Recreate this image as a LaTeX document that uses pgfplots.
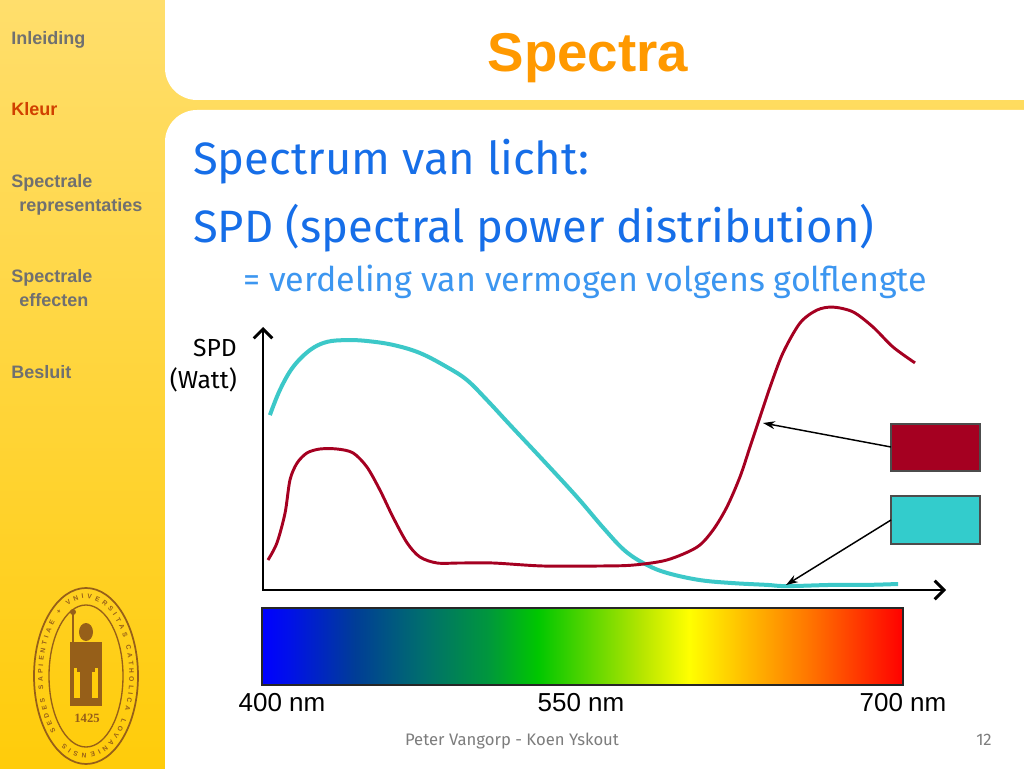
\documentclass[border=0pt]{standalone}
\usepackage{pgfplots}
\pgfplotsset{compat=1.18}
\usepackage{fontspec}
\setmainfont{Fira Sans}
\newfontfamily\arial{Liberation Sans}
\newfontfamily\serifb{Liberation Serif}
\usetikzlibrary{arrows.meta,decorations.text}
\definecolor{sbtop}{RGB}{255,222,108}
\definecolor{sbbot}{RGB}{255,204,10}
\definecolor{navgray}{RGB}{112,112,112}
\definecolor{navred}{RGB}{208,64,0}
\definecolor{titleor}{RGB}{255,153,0}
\definecolor{txtblue}{RGB}{22,110,232}
\definecolor{ltblue}{RGB}{60,150,240}
\definecolor{spdred}{RGB}{165,0,33}
\definecolor{spdcyan}{RGB}{51,204,204}
\definecolor{curvecyan}{RGB}{60,200,200}
\definecolor{seal}{RGB}{150,95,25}
\definecolor{footgray}{RGB}{125,125,125}
\pgfdeclarehorizontalshading{spectrum}{100bp}{%
rgb(0bp)=(0,0,1); rgb(25bp)=(0,0,1); rgb(27bp)=(0,0.06,0.92);
rgb(32.25bp)=(0,0.24,0.59); rgb(37.5bp)=(0,0.43,0.43);
rgb(42.6bp)=(0,0.59,0.24); rgb(46.5bp)=(0,0.78,0);
rgb(54.6bp)=(0.71,0.9,0); rgb(58.3bp)=(1,1,0);
rgb(62.5bp)=(1,0.75,0); rgb(67.5bp)=(1,0.47,0);
rgb(75bp)=(1,0,0); rgb(100bp)=(1,0,0)}

\pgfplotstableread{
nm spd
403.7 58.3
408.4 66.7
414.5 74.3
422.5 80.0
430.4 82.7
439.8 83.3
449.1 83.0
461.3 81.7
473.9 79.0
486.6 74.3
495.9 70.0
505.3 63.3
516.1 55.0
531.5 43.3
547.4 31.0
560.0 20.5
570.0 13.0
580.0 8.4
590.0 5.6
605.0 3.3
620.4 2.3
636.3 1.7
645.7 1.3
667.2 1.7
683.1 1.7
697.7 2.0
}\cyantable

\pgfplotstableread{
nm spd
402.8 10.0
407.0 15.7
410.8 25.7
413.1 36.7
416.4 42.3
421.1 45.7
427.1 47.0
435.1 47.0
442.6 45.7
449.1 41.0
455.2 33.3
461.3 24.3
467.9 15.7
473.9 11.0
481.9 9.0
492.7 9.0
508.1 9.0
531.5 8.0
558.2 8.0
573.6 8.3
589.5 10.0
603.6 14.3
611.1 20.0
617.6 27.7
623.7 37.7
628.4 47.7
633.1 57.7
637.8 67.7
643.8 79.0
651.8 89.0
659.7 93.3
667.2 94.3
676.6 92.7
685.9 87.7
695.3 81.0
705.6 75.7
}\redtable

\tikzset{px/.style={x=0.75pt,y=-0.75pt,shift={(0pt,576pt)}}}

\begin{document}
\begin{tikzpicture}
% ---------- background ----------
\begin{scope}[px]
\shade[top color=sbtop,bottom color=sbbot] (0,0) rectangle (1024,768);
\fill[white,rounded corners=24pt] (165,-60) rectangle (1080,100);
\fill[white,rounded corners=24pt] (165,110) rectangle (1080,830);
% sidebar navigation
\begin{scope}[every node/.style={anchor=base west,inner sep=0pt,font=\arial\bfseries\fontsize{13.5}{16}\selectfont,text=navgray}]
\node at (11,45) {Inleiding};
\node[text=navred] at (11,116) {Kleur};
\node at (11,188) {Spectrale};
\node at (19,212) {representaties};
\node at (11,283) {Spectrale};
\node at (19,307) {effecten};
\node at (11,379) {Besluit};
\end{scope}
% seal
\draw[seal,line width=1.3pt] (86,676) ellipse [x radius=52, y radius=88];
\draw[seal,line width=1.0pt] (86,676) ellipse [x radius=37, y radius=71];
\fill[seal] (70,642) rectangle (102,706);
\fill[sbbot] (74,668) rectangle (98,698);
\fill[seal] (80,672) rectangle (92,698);
\fill[seal] (86,632) ellipse [x radius=7, y radius=9];
\fill[seal] (77,642) rectangle (95,672);
\draw[seal,line width=1.2pt] (73,612) -- (73,660);
\fill[seal] (73,612) circle (3);
\node[seal,font=\serifb\bfseries\fontsize{9.5}{11}\selectfont,inner sep=0pt] at (87,718) {1425};
\end{scope}
\path[decorate,decoration={text along path,text align=fit to path,
  text={|\arial\bfseries\fontsize{5}{6}\selectfont\color{seal}|SEDES SAPIENTIAE + VNIVERSITAS CATHOLICA LOVANIENSIS}}]
  (64.5pt,69pt) ++(226:32.5pt and 58pt) arc[start angle=226, end angle=-120, x radius=32.5pt, y radius=58pt];

% ---------- chart ----------
\begin{axis}[at={(0pt,0pt)},anchor=south west,scale only axis,
  width=768pt,height=576pt,
  xmin=277.38,xmax=756.63,ymin=-59.333,ymax=196.667,
  hide axis,clip=false]
\addplot[curvecyan,line width=3pt,smooth,tension=0.6] table[x=nm,y=spd] {\cyantable};
\addplot[spdred,line width=2.2pt,smooth,tension=0.5] table[x=nm,y=spd] {\redtable};
\end{axis}

\begin{scope}[px]
% axes
\draw[line width=2.2pt,{Straight Barb[length=7pt,width=14pt]}-{Straight Barb[length=7pt,width=14pt]}]
  (263,327) -- (263,590) -- (946,590);
% boxes and connectors
\filldraw[fill=spdred,draw=black!70,line width=0.8pt] (891,424) rectangle (980,471);
\filldraw[fill=spdcyan,draw=black!70,line width=0.8pt] (891,496) rectangle (980,544);
\draw[line width=1.1pt,-{Stealth[length=9pt,width=6pt]}] (891,447) -- (763,423);
\draw[line width=1.1pt,-{Stealth[length=9pt,width=6pt]}] (891,520) -- (786,585);
% spectrum bar
\shade[shading=spectrum] (262,608) rectangle (903,685);
\draw[black!85,line width=0.8pt] (262,608) rectangle (903,685);
% labels
\node[anchor=base,inner sep=0pt,font=\arial\fontsize{19.5}{22}\selectfont] at (282,711) {400 nm};
\node[anchor=base,inner sep=0pt,font=\arial\fontsize{19.5}{22}\selectfont] at (581,711) {550 nm};
\node[anchor=base,inner sep=0pt,font=\arial\fontsize{19.5}{22}\selectfont] at (903,711) {700 nm};
\node[anchor=base east,inner sep=0pt,font=\fontsize{18.5}{20}\selectfont] at (237,357) {SPD};
\node[anchor=base east,inner sep=0pt,font=\fontsize{18.5}{20}\selectfont] at (237,389) {(Watt)};
% title and text
\node[anchor=base,inner sep=0pt,text=titleor,font=\arial\bfseries\fontsize{41}{48}\selectfont] at (588,72) {Spectra};
\node[anchor=base west,inner sep=0pt,text=txtblue,font=\fontsize{34}{40}\selectfont] at (193,175) {Spectrum van licht:};
\node[anchor=base west,inner sep=0pt,text=txtblue,font=\fontsize{34}{40}\selectfont] at (193,243) {SPD (spectral power distribution)};
\node[anchor=base west,inner sep=0pt,text=ltblue,font=\fontsize{25.5}{30}\selectfont] at (243,292) {= verdeling van vermogen volgens golflengte};
% footer
\node[anchor=base,inner sep=0pt,text=footgray,font=\fontsize{12.5}{15}\selectfont] at (512,745) {Peter Vangorp - Koen Yskout};
\node[anchor=base east,inner sep=0pt,text=footgray,font=\fontsize{12.5}{15}\selectfont] at (992,745) {12};
\end{scope}
\pgfresetboundingbox
\useasboundingbox (0pt,0pt) rectangle (768pt,576pt);
\end{tikzpicture}
\end{document}
